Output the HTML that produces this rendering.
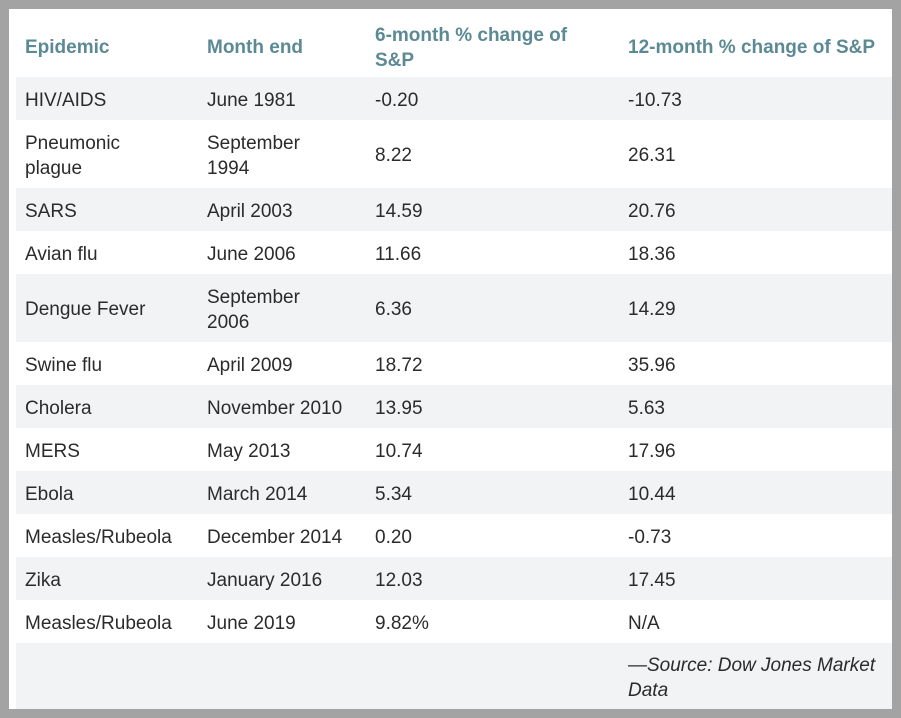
<!DOCTYPE html>
<html><head><meta charset="utf-8"><style>
html,body{margin:0;padding:0;}
body{width:901px;height:718px;background:#a3a3a3;position:relative;overflow:hidden;font-family:"Liberation Sans",sans-serif;}
#card{position:absolute;left:9px;top:9px;width:883px;height:700px;background:#fff;}
.row{position:absolute;left:7px;width:876px;}
.g{background:#f2f3f5;}
.c{position:absolute;top:3px;bottom:0;display:flex;align-items:center;font-size:19px;line-height:25px;color:#2b2b2b;}
.h .c{color:#5b8a95;font-weight:bold;}
.c1{left:9px;width:175px}.c2{left:191px;width:165px}.c3{left:359px;width:245px}.c4{left:612px;width:262px}
.src{font-style:italic;}
</style></head><body>
<div id="card"></div>
<script>
const epidemics=["HIV/AIDS","Pneumonic<br>plague","SARS","Avian flu","Dengue Fever","Swine flu","Cholera","MERS","Ebola","Measles/Rubeola","Zika","Measles/Rubeola"];
const months=["June 1981","September<br>1994","April 2003","June 2006","September<br>2006","April 2009","November 2010","May 2013","March 2014","December 2014","January 2016","June 2019"];
const sixMonth=["-0.20","8.22","14.59","11.66","6.36","18.72","13.95","10.74","5.34","0.20","12.03","9.82%"];
const twelveMonth=["-10.73","26.31","20.76","18.36","14.29","35.96","5.63","17.96","10.44","-0.73","17.45","N/A"];
const rowTops=[68,111,179,222,265,333,376,419,462,505,548,591,634,699];
const card=document.getElementById('card');
function mk(top,h,cls,cells,name){
  const r=document.createElement('div');
  
  
  r.className='row '+cls;r.style.top=top+'px';r.style.height=h+'px';
  cells.forEach((t,i)=>{const d=document.createElement('div');
    
    
    d.className='c c'+(i+1)+(t.indexOf('Source')>=0?' src':'');d.innerHTML=t;r.appendChild(d);});
  card.appendChild(r);
}
mk(6,62,'h',["Epidemic","Month end","6-month % change of<br>S&amp;P","12-month % change of S&amp;P"],'header-row');
for(let i=0;i<epidemics.length;i++){
  mk(rowTops[i],rowTops[i+1]-rowTops[i],i%2===0?'g':'',[epidemics[i],months[i],sixMonth[i],twelveMonth[i]],'data-row-'+(i+1));
}
mk(rowTops[12],rowTops[13]-rowTops[12]+1,'g',["","","","—Source: Dow Jones Market<br>Data"],'source-row');
</script>
</body></html>
